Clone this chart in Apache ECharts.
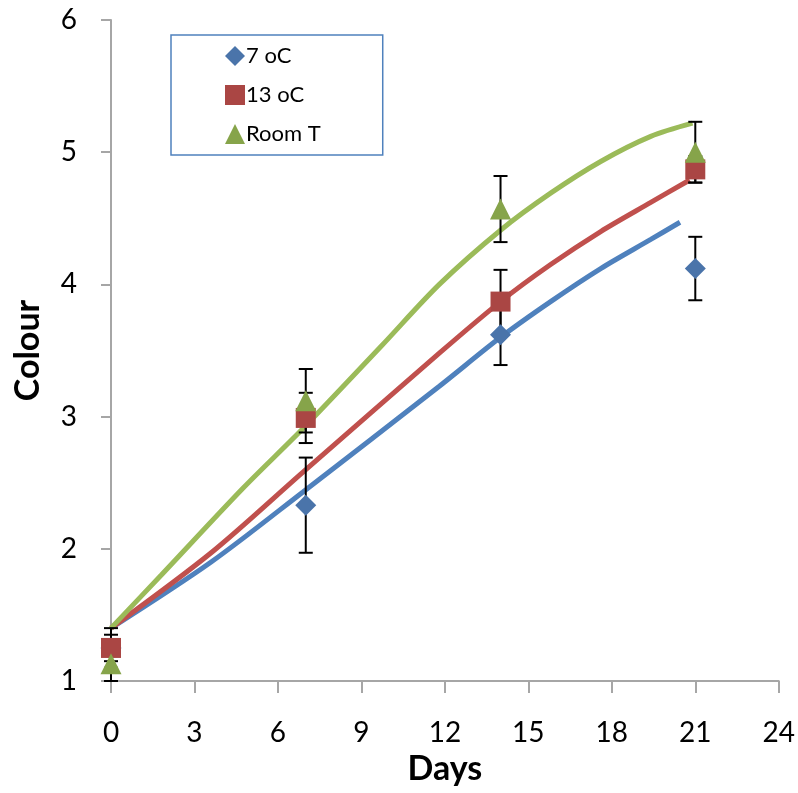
<!DOCTYPE html>
<html>
<head>
<meta charset="utf-8">
<script src="https://cdn.jsdelivr.net/npm/echarts@6/dist/echarts.min.js"></script>
<style>
  html, body { margin: 0; padding: 0; background: #fff; }
  #chart { width: 798px; height: 793px; }
</style>
</head>
<body>
<div id="chart"></div>
<script>
// measured points (day, mean) and error bar half widths
const days = [0, 7, 14, 21]
const temp7 = [1.25, 2.33, 3.62, 4.12]
const temp7Err = [0.10, 0.36, 0.23, 0.24]
const temp13 = [1.25, 2.99, 3.87, 4.87]
const temp13Err = [0.15, 0.19, 0.24, 0.10]
const roomT = [1.13, 3.12, 4.57, 5.00]
const roomTErr = [0.13, 0.24, 0.25, 0.23]

// trend line points
const trend7 = [[0, 1.40], [3.6, 1.90], [6.9, 2.43], [11.8, 3.23], [14, 3.60], [15.8, 3.87], [17.6, 4.12], [19.4, 4.34], [20.45, 4.47]]
const trend13 = [[0, 1.40], [3.6, 1.97], [6.9, 2.58], [11.8, 3.48], [14, 3.87], [15.8, 4.15], [17.6, 4.40], [19.4, 4.62], [20.8, 4.79]]
const trendRoom = [[0, 1.40], [1.8, 1.80], [4.75, 2.46], [6.9, 2.91], [9.7, 3.53], [11.8, 4.00], [14, 4.41], [15.8, 4.69], [17.6, 4.93], [19.4, 5.12], [20.9, 5.22]]

const fontName = 'Lato'
const axisGrey = '#a6a6a6'

function pairs(vals) {
  return days.map((d, i) => [d, vals[i]])
}

function errData(vals, errs) {
  return days.map((d, i) => [d, vals[i] - errs[i], vals[i] + errs[i]])
}

function renderErr(params, api) {
  const x = api.value(0)
  const lo = api.coord([x, api.value(1)])
  const hi = api.coord([x, api.value(2)])
  const cap = 7
  const style = { stroke: '#000', lineWidth: 2 }
  return {
    type: 'group',
    children: [
      { type: 'line', shape: { x1: lo[0], y1: lo[1], x2: hi[0], y2: hi[1] }, style: style },
      { type: 'line', shape: { x1: lo[0] - cap, y1: lo[1], x2: lo[0] + cap, y2: lo[1] }, style: style },
      { type: 'line', shape: { x1: hi[0] - cap, y1: hi[1], x2: hi[0] + cap, y2: hi[1] }, style: style }
    ]
  }
}

function trendSeries(data, color) {
  return {
    type: 'line',
    data: data,
    smooth: 0.3,
    showSymbol: false,
    silent: true,
    lineStyle: { color: color, width: 5 },
    z: 2
  }
}

function errSeries(vals, errs) {
  return {
    type: 'custom',
    renderItem: renderErr,
    data: errData(vals, errs),
    encode: { x: 0, y: [1, 2] },
    silent: true,
    z: 3
  }
}

const chart = echarts.init(document.getElementById('chart'))
chart.setOption({
  animation: false,
  grid: { left: 111, right: 19, top: 20, bottom: 112, containLabel: false },
  legend: {
    data: ['7 oC', '13 oC', 'Room T'],
    orient: 'vertical',
    left: 171,
    top: 35,
    padding: [10, 62, 10, 54],
    itemGap: 17,
    itemWidth: 20,
    itemHeight: 20,
    borderColor: '#4f81bd',
    borderWidth: 1.5,
    textStyle: { fontFamily: fontName, fontSize: 22, color: '#000', padding: [0, 0, 0, -4] }
  },
  xAxis: {
    type: 'value',
    min: 0,
    max: 24,
    interval: 3,
    name: 'Days',
    nameLocation: 'middle',
    nameGap: 68,
    nameTextStyle: { fontFamily: fontName, fontSize: 34, fontWeight: 'bold', color: '#000' },
    axisLine: { show: true, lineStyle: { color: axisGrey, width: 2 } },
    axisTick: { show: true, length: 12, lineStyle: { color: axisGrey, width: 2 } },
    axisLabel: { fontFamily: fontName, fontSize: 28, color: '#000', margin: 38 },
    splitLine: { show: false }
  },
  yAxis: {
    type: 'value',
    min: 1,
    max: 6,
    interval: 1,
    name: 'Colour',
    nameLocation: 'middle',
    nameGap: 66,
    nameTextStyle: { fontFamily: fontName, fontSize: 34, fontWeight: 'bold', color: '#000' },
    axisLine: { show: true, lineStyle: { color: axisGrey, width: 2 } },
    axisTick: { show: true, length: 10, lineStyle: { color: axisGrey, width: 2 } },
    axisLabel: { fontFamily: fontName, fontSize: 28, color: '#000', margin: 34 },
    splitLine: { show: false }
  },
  series: [
    trendSeries(trend7, '#4f81bd'),
    trendSeries(trend13, '#c0504d'),
    trendSeries(trendRoom, '#9bbb59'),
    errSeries(temp7, temp7Err),
    errSeries(temp13, temp13Err),
    errSeries(roomT, roomTErr),
    {
      name: '7 oC',
      type: 'scatter',
      data: pairs(temp7),
      symbol: 'diamond',
      symbolSize: 21,
      itemStyle: { color: '#4a74aa', opacity: 1 },
      z: 4
    },
    {
      name: '13 oC',
      type: 'scatter',
      data: pairs(temp13),
      symbol: 'rect',
      symbolSize: 20,
      itemStyle: { color: '#aa4644', opacity: 1 },
      z: 4
    },
    {
      name: 'Room T',
      type: 'scatter',
      data: pairs(roomT),
      symbol: 'triangle',
      symbolSize: 21,
      itemStyle: { color: '#86a44a', opacity: 1 },
      z: 4
    }
  ]
})
</script>
</body>
</html>
